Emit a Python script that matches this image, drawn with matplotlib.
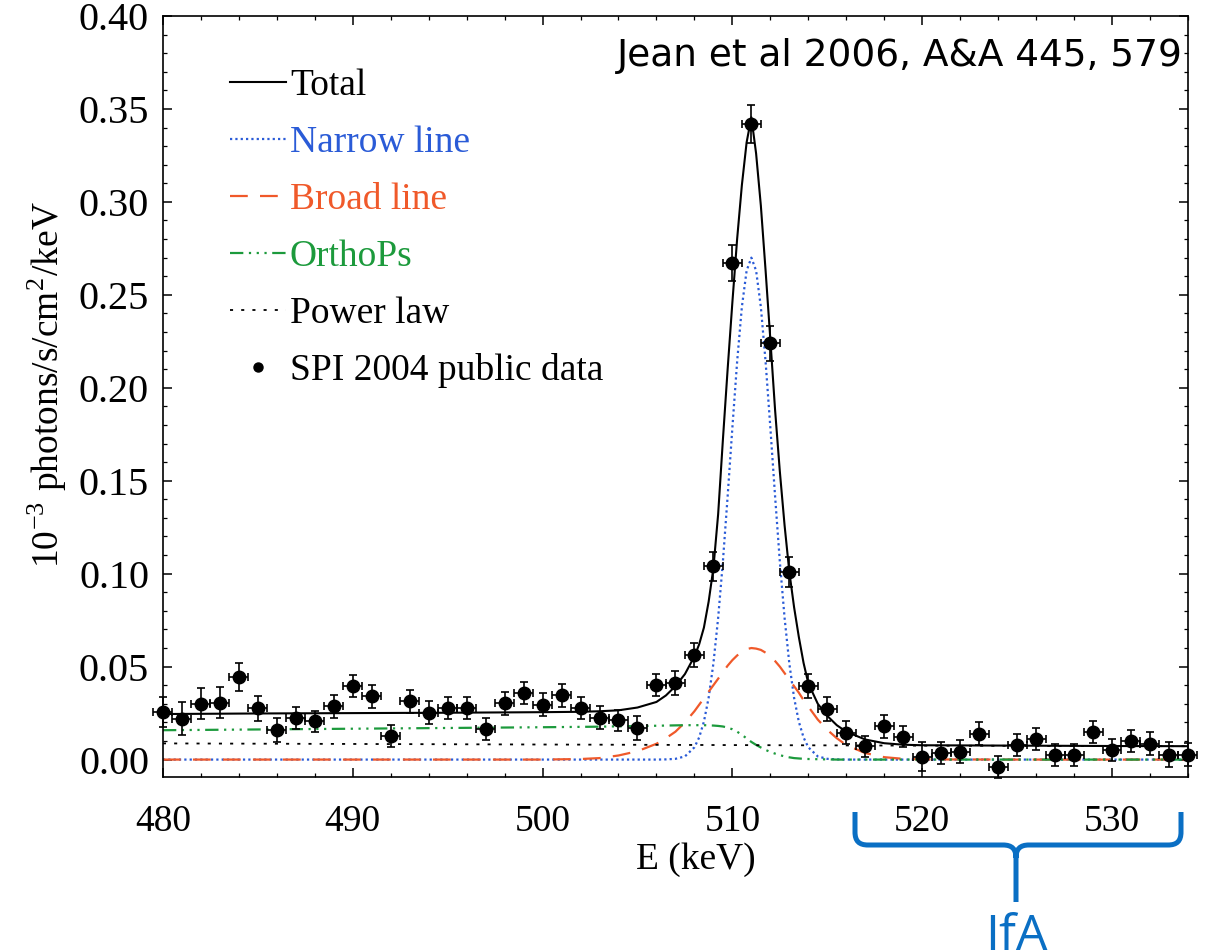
import numpy as np
import matplotlib
matplotlib.use("Agg")
import matplotlib.pyplot as plt
from matplotlib.lines import Line2D
from matplotlib.path import Path
from matplotlib.patches import PathPatch
from matplotlib.ticker import MultipleLocator, FormatStrFormatter

# SPI 2004 data points (1 keV bins)
energy = np.arange(480, 535)
flux = [0.0257, 0.022, 0.030, 0.0307, 0.0444, 0.0277, 0.0158, 0.0223, 0.0205, 0.0286,
        0.0395, 0.034, 0.0126, 0.0313, 0.0253, 0.0278, 0.0277, 0.0163, 0.0302, 0.036,
        0.0296, 0.0345, 0.0278, 0.0226, 0.0212, 0.017, 0.0402, 0.041, 0.0564, 0.104,
        0.267, 0.342, 0.224, 0.101, 0.0395, 0.0273, 0.0145, 0.0072, 0.018, 0.0124,
        0.0016, 0.0037, 0.0043, 0.014, -0.0039, 0.008, 0.011, 0.0023, 0.0023, 0.015,
        0.005, 0.010, 0.0086, 0.0027, 0.0027]
flux_err = [0.008, 0.009, 0.0084, 0.0082, 0.0074, 0.0067, 0.0065, 0.0061, 0.0059, 0.0061,
            0.0058, 0.0061, 0.0058, 0.006, 0.006, 0.0061, 0.0058, 0.0059, 0.0061, 0.006,
            0.006, 0.006, 0.006, 0.006, 0.0056, 0.0063, 0.006, 0.0064, 0.0065, 0.0079,
            0.0096, 0.0101, 0.0094, 0.0079, 0.0065, 0.0065, 0.0063, 0.0056, 0.0062, 0.0058,
            0.008, 0.006, 0.006, 0.006, 0.006, 0.006, 0.006, 0.006, 0.006, 0.006,
            0.006, 0.006, 0.006, 0.0065, 0.006]

# model curves
model_e = [480, 485, 490, 495, 500, 502, 503, 504, 505, 506, 506.5, 507, 507.5, 508,
           508.25, 508.5, 508.75, 509, 509.25, 509.5, 509.75, 510, 510.25, 510.5, 510.75,
           511, 511.25, 511.5, 511.75, 512, 512.25, 512.5, 512.75, 513, 513.25, 513.5,
           513.75, 514, 514.5, 515, 515.5, 516, 517, 518, 519, 520, 525, 530, 534]
total = [0.0245, 0.0248, 0.0250, 0.0252, 0.0255, 0.0257, 0.0260, 0.0265, 0.0280, 0.0310,
         0.0345, 0.0395, 0.0460, 0.0555, 0.0620, 0.0710, 0.0850, 0.1030, 0.1320, 0.1720,
         0.2100, 0.2460, 0.2800, 0.3090, 0.3320, 0.3455, 0.3260, 0.2980, 0.2630, 0.2260,
         0.1880, 0.1550, 0.1260, 0.1010, 0.0820, 0.0660, 0.0520, 0.0410, 0.0300, 0.0235,
         0.0185, 0.0150, 0.0108, 0.0088, 0.0080, 0.0077, 0.0075, 0.0073, 0.0072]
narrow = [0, 0, 0, 0, 0, 0, 0, 0, 0, 0,
          0.0001, 0.0004, 0.0017, 0.0066, 0.0119, 0.0204, 0.0333, 0.0517, 0.0762, 0.1065,
          0.1416, 0.1786, 0.2140, 0.2435, 0.2630, 0.2700, 0.2630, 0.2435, 0.2140, 0.1786,
          0.1416, 0.1065, 0.0762, 0.0517, 0.0333, 0.0204, 0.0119, 0.0066, 0.0017, 0.0004,
          0.0001, 0, 0, 0, 0, 0, 0, 0, 0]
broad = [0, 0, 0, 0, 0, 0.0003, 0.0008, 0.0022, 0.0045, 0.0085,
         0.0115, 0.0150, 0.0200, 0.0260, 0.0295, 0.0330, 0.0365, 0.0400, 0.0435, 0.0470,
         0.0505, 0.0535, 0.0560, 0.0580, 0.0594, 0.0600, 0.0597, 0.0590, 0.0575, 0.0555,
         0.0530, 0.0500, 0.0465, 0.0430, 0.0395, 0.0360, 0.0320, 0.0285, 0.0215, 0.0160,
         0.0115, 0.0078, 0.0035, 0.0013, 0.0004, 0.0001, 0, 0, 0]
ortho = [0.0158, 0.0162, 0.0166, 0.0170, 0.0174, 0.0176, 0.0177, 0.0179, 0.0180, 0.0182,
         0.0183, 0.0184, 0.0185, 0.0185, 0.0185, 0.0185, 0.0184, 0.0183, 0.0181, 0.0178,
         0.0172, 0.0163, 0.0150, 0.0133, 0.0114, 0.0095, 0.0079, 0.0065, 0.0052, 0.0041,
         0.0032, 0.0024, 0.0017, 0.0012, 0.0008, 0.0006, 0.0004, 0.0003, 0.0002, 0.0001,
         0, 0, 0, 0, 0, 0, 0, 0, 0]
pl_e = [480, 490, 500, 510, 520, 534]
power = [0.0087, 0.0084, 0.0081, 0.0078, 0.0075, 0.0072]

plt.rcParams["font.family"] = ["Liberation Serif", "DejaVu Serif"]
plt.rcParams["mathtext.fontset"] = "stix"

BLUE, RED, GREEN, IFA = "#2a5bd7", "#f0592a", "#1c9a3c", "#0a6fc4"

fig = plt.figure(figsize=(12.07, 9.51), dpi=100)
ax = fig.add_axes([0.1350, 0.1833, 0.8492, 0.7999])

l_tot, = ax.plot(model_e, total, color="k", lw=1.5, label="Total")
l_nar, = ax.plot(model_e, narrow, color=BLUE, lw=1.6, ls=(0, (1, 1.4)), label="Narrow line")
l_bro, = ax.plot(model_e, broad, color=RED, lw=1.6, ls=(0, (8, 5.5)), label="Broad line")
l_ort, = ax.plot(model_e, ortho, color=GREEN, lw=1.6,
                 ls=(0, (6, 2.5, 1, 2.5, 1, 2.5, 1, 2.5)), label="OrthoPs")
l_pl, = ax.plot(pl_e, power, color="k", lw=1.3, ls=(0, (1.7, 4.5)), label="Power law")
ax.errorbar(energy, flux, xerr=0.5, yerr=flux_err, fmt="o", color="k", ms=9,
            elinewidth=1.2, capsize=3, capthick=1.2, clip_on=False, zorder=5)
dot = Line2D([], [], marker="o", ls="none", color="k", ms=6.5, label="SPI 2004 public data")

ax.set_xlim(480, 534); ax.set_ylim(-0.0092, 0.40)
ax.xaxis.set_major_locator(MultipleLocator(10)); ax.xaxis.set_minor_locator(MultipleLocator(2))
ax.yaxis.set_major_locator(MultipleLocator(0.05)); ax.yaxis.set_minor_locator(MultipleLocator(0.01))
ax.yaxis.set_major_formatter(FormatStrFormatter("%.2f"))
ax.tick_params(which="both", direction="in", top=True, right=True, labelsize=27)
ax.tick_params(axis="y", labelsize=29)
ax.tick_params(which="major", length=6.5, width=1.1)
ax.tick_params(which="minor", length=3, width=0.9)
ax.tick_params(axis="x", pad=20); ax.tick_params(axis="y", pad=10)
for s in ax.spines.values():
    s.set_linewidth(1.2)

ax.set_xlabel("E (keV)", fontsize=27); ax.xaxis.set_label_coords(0.52, -0.086)
ax.set_ylabel(r"10$^{\mathregular{-3}}$ photons/s/cm$^{\mathregular{2}}$/keV", fontsize=27)
ax.yaxis.set_label_coords(-0.092, 0.515)

ax.legend(handles=[l_tot, l_nar, l_bro, l_ort, l_pl, dot], loc="upper left",
          bbox_to_anchor=(0.0654, 0.931), frameon=False, fontsize=27, handlelength=1.5,
          handletextpad=0.1, labelspacing=0.60, borderpad=0, borderaxespad=0,
          labelcolor="linecolor")

ax.text(0.995, 0.948, "Jean et al 2006, A&A 445, 579", transform=ax.transAxes,
        ha="right", va="center", fontsize=27, family="DejaVu Sans")

# blue brace under the axis (figure pixel coords)
W, H = 1207, 951
def P(x, y):
    return (x / W, 1 - y / H)
verts = [P(855, 812), P(855, 832), P(855, 841), P(859, 845), P(868, 845), P(1003, 845),
         P(1012, 845), P(1016, 849), P(1016, 858), P(1016, 902),
         P(1181, 812), P(1181, 832), P(1181, 841), P(1177, 845), P(1168, 845), P(1029, 845),
         P(1020, 845), P(1016, 849), P(1016, 858)]
codes = [Path.MOVETO, Path.LINETO, Path.CURVE4, Path.CURVE4, Path.CURVE4, Path.LINETO,
         Path.CURVE4, Path.CURVE4, Path.CURVE4, Path.LINETO,
         Path.MOVETO, Path.LINETO, Path.CURVE4, Path.CURVE4, Path.CURVE4, Path.LINETO,
         Path.CURVE4, Path.CURVE4, Path.CURVE4]
fig.add_artist(PathPatch(Path(verts, codes), fill=False, lw=3.6, edgecolor=IFA,
                         transform=fig.transFigure, capstyle="butt", joinstyle="round"))
fig.text(1016 / W, 1 - 913 / H, "IfA", color=IFA, fontsize=36, ha="center", va="top",
         family="Open Sans")

fig.savefig("out.png", dpi=100)
